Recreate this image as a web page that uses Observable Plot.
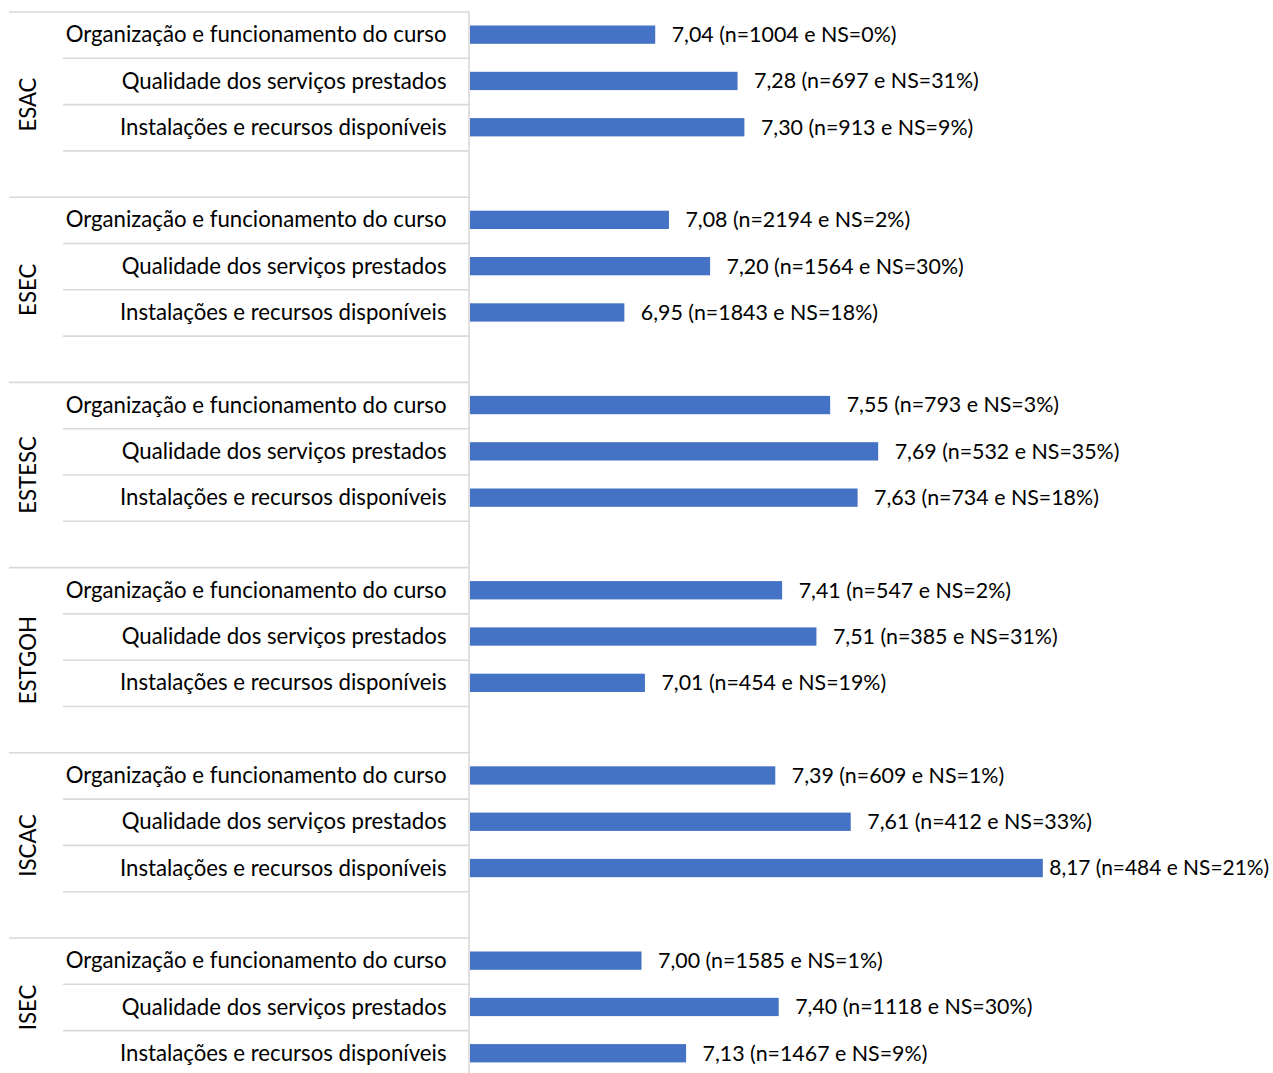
<!DOCTYPE html>
<html><head><meta charset="utf-8">
<script src="https://cdn.jsdelivr.net/npm/d3@7"></script>
<script src="https://cdn.jsdelivr.net/npm/@observablehq/plot@0.6"></script>
<style>
html,body{margin:0;padding:0;background:#fff;}
#chart svg{display:block;}
</style>
</head><body>
<div id="chart"></div>
<script>
// ---- data ----
const groups = ["ESAC", "ESEC", "ESTESC", "ESTGOH", "ISCAC", "ISEC"];
const items = [
  "Organização e funcionamento do curso",
  "Qualidade dos serviços prestados",
  "Instalações e recursos disponíveis"
];
const means = [
  7.04, 7.28, 7.30,
  7.08, 7.20, 6.95,
  7.55, 7.69, 7.63,
  7.41, 7.51, 7.01,
  7.39, 7.61, 8.17,
  7.00, 7.40, 7.13
];
const counts = [
  1004, 697, 913,
  2194, 1564, 1843,
  793, 532, 734,
  547, 385, 454,
  609, 412, 484,
  1585, 1118, 1467
];
const nsPercents = [
  0, 31, 9,
  2, 30, 18,
  3, 35, 18,
  2, 31, 19,
  1, 33, 21,
  1, 30, 9
];
const xDomain = [6.5, 8.5];

// ---- layout ----
const W = 1273, H = 1073;
const FONT = "Lato";
const STEP = 46.3, TOP = 11.5;

const rows = [];
const slots = [];
groups.forEach((g, gi) => {
  items.forEach((it, ii) => {
    const k = gi * items.length + ii;
    const v = means[k];
    rows.push({
      group: g, item: it, slot: `${g}|${ii}`, value: v,
      label: `${v.toFixed(2).replace(".", ",")} (n=${counts[k]} e NS=${nsPercents[k]}%)`
    });
    slots.push(`${g}|${ii}`);
  });
  if (gi < groups.length - 1) slots.push(`${g}|gap`);
});

const ctx = document.createElement("canvas").getContext("2d");
ctx.font = `100px ${FONT}`;
const FS = 100 * 381 / ctx.measureText(items[0]).width;
const FSV = Math.min(FS, 100 * 225 / ctx.measureText(rows[0].label).width);

const groupTops = groups.map(g => `${g}|0`);
const itemLines = slots.filter(s => !s.endsWith("|0"));

const grid = {stroke: "#d9d9d9", strokeWidth: 1.6, dy: -STEP / 2, insetRight: W - 469};

const chart = Plot.plot({
  width: W, height: H,
  marginLeft: 0, marginRight: 0, marginTop: 0, marginBottom: 0,
  style: {fontFamily: FONT, fontSize: FS + "px", color: "#000", background: "#fff", overflow: "hidden"},
  x: {domain: xDomain, range: [470, 470 + 2 * 343], axis: null},
  y: {domain: slots, range: [TOP, TOP + slots.length * STEP], padding: 0, round: false, axis: null},
  marks: [
    Plot.ruleY(groupTops, {y: d => d, ...grid, insetLeft: 9}),
    Plot.ruleY(itemLines, {y: d => d, ...grid, insetLeft: 63}),
    Plot.ruleX([xDomain[0]], {dx: -1.5, insetTop: TOP, stroke: "#d9d9d9", strokeWidth: 1.6}),
    Plot.barX(rows, {x1: () => xDomain[0], x2: "value", y: "slot", fill: "#4472C4", insetTop: 14, insetBottom: 14}),
    Plot.text(rows, {x: "value", y: "slot", text: "label", textAnchor: "start", dx: 16, fill: "#000", fontSize: FSV}),
    Plot.text(rows, {y: "slot", text: "item", frameAnchor: "left", dx: 446, textAnchor: "end", fill: "#000"}),
    Plot.text(groups.slice(0, -1), {y: g => `${g}|1`, text: d => d, frameAnchor: "left", dx: 28, dy: STEP / 2, rotate: -90, textAnchor: "middle", fill: "#000"}),
    Plot.text(groups.slice(-1), {y: g => `${g}|1`, text: d => d, frameAnchor: "left", dx: 28, rotate: -90, textAnchor: "middle", fill: "#000"})
  ]
});
document.getElementById("chart").appendChild(chart);

// shrink any value label that would overflow the right edge (the source squeezes it)
const svgRect = chart.getBoundingClientRect();
d3.select(chart).selectAll("text").each(function () {
  const r = this.getBoundingClientRect();
  const right = r.right - svgRect.left;
  if (right > W - 3) {
    const left = r.left - svgRect.left - 10;
    const scale = (W - 4 - left) / r.width;
    this.setAttribute("dx", -10);
    this.setAttribute("font-size", (FSV * scale).toFixed(2));
  }
});
</script>
</body></html>
